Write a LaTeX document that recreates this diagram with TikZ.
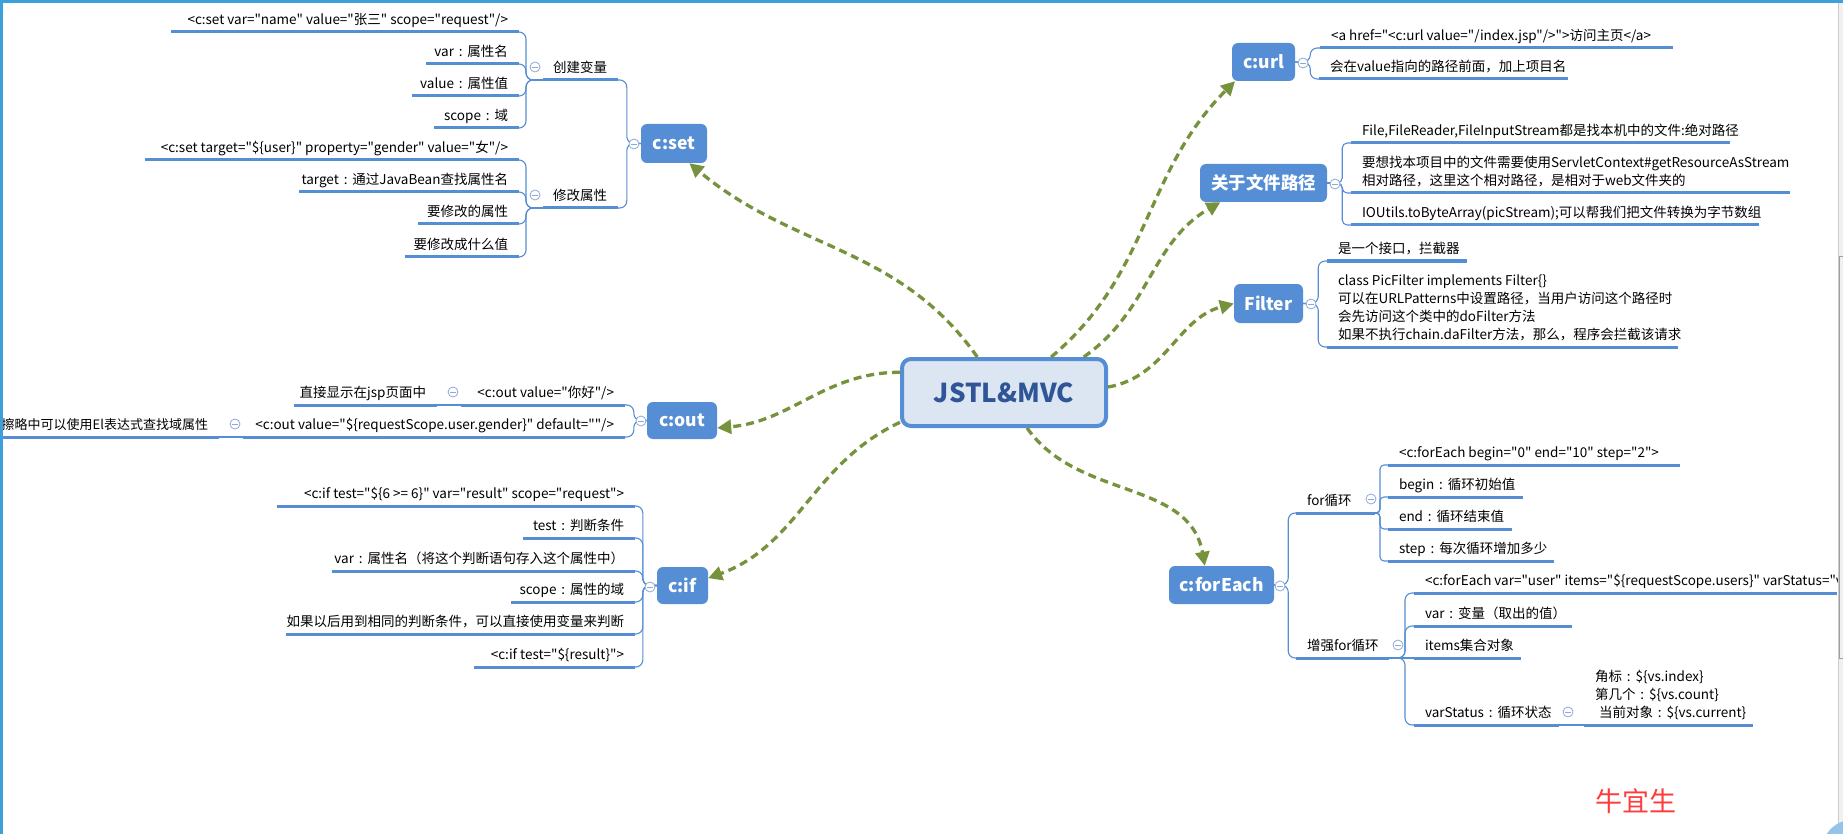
\documentclass[tikz,border=0pt]{standalone}
\usepackage{fontspec}
\setmainfont{Noto Sans CJK SC}[Ligatures=TeXOff]
\usetikzlibrary{arrows.meta}

\definecolor{topic}{RGB}{85,142,213}
\definecolor{ulinec}{RGB}{85,142,213}
\definecolor{olive}{RGB}{118,146,60}
\definecolor{cfill}{RGB}{220,230,242}
\definecolor{ctext}{RGB}{47,85,151}
\definecolor{winblue}{RGB}{60,160,220}
\definecolor{circ}{RGB}{141,170,215}
\definecolor{sigred}{RGB}{255,60,60}
\definecolor{stripgray}{RGB}{240,240,240}
\definecolor{orb}{RGB}{150,195,235}

\newlength\lw
\newcommand\leaffont{\fontsize{13.5pt}{17.7pt}\selectfont}
\newcommand\topicfont{\fontsize{17.5pt}{21pt}\selectfont\bfseries}
\newcommand\fc{\makebox[1em][c]{:}}
\newcommand\lineR[1]{\hbox to\lw{\hss\strut #1}}
\newcommand\lineL[1]{\hbox to\lw{\strut #1\hss}}
\newcommand\leafL[5]{\pgfmathsetlength\lw{#3-(#2)-22}%
  \node[leaf,anchor=south east] (#1) at (#3,#4) {\vbox{#5}};
  \draw[uline] (#1.south west) -- (#1.south east);}
\newcommand\leafR[5]{\pgfmathsetlength\lw{#3-(#2)-22}%
  \node[leaf,anchor=south west] (#1) at (#2,#4) {\vbox{#5}};
  \draw[uline] (#1.south west) -- (#1.south east);}
\newcommand\brL[4]{\foreach \tg in {#3} {\draw[brk=#4] (#1) -- ++(-#2,0) |- (\tg);}}
\newcommand\brR[4]{\foreach \tg in {#3} {\draw[brk=#4] (#1) -- ++(#2,0) |- (\tg);}}

\tikzset{
  leaf/.style={inner xsep=11pt, inner ysep=2.6pt, outer sep=0pt, font=\leaffont, text=black},
  uline/.style={draw=ulinec, line width=3pt},
  brk/.style={draw=ulinec, line width=1.1pt, rounded corners=#1},
  brk/.default=7pt,
  topicbox/.style={fill=topic, rounded corners=6pt, text=white, font=\topicfont, inner sep=0pt},
  conn/.style={draw=olive, line width=3.3pt, dash pattern=on 8pt off 5pt,
    -{Triangle[length=14pt,width=14pt]}},
  collapse/.style={circle, draw=circ, fill=white, line width=0.8pt, minimum size=10pt, inner sep=0pt,
    path picture={\draw[circ,line width=0.9pt] ([xshift=-2.6pt]path picture bounding box.center) -- ([xshift=2.6pt]path picture bounding box.center);}},
}

\begin{document}
\begin{tikzpicture}[x=1pt,y=-1pt]
\useasboundingbox (0,0) rectangle (1843,834);
\fill[white] (0,0) rectangle (1843,834);

% ---------- c:set ----------
\leafL{L1}{171}{519}{32}{\lineR{<c:set var="name" value="张三" scope="request"/>}}
\leafL{L2}{426}{519}{64}{\lineR{var\fc 属性名}}
\leafL{L3}{412}{519}{96}{\lineR{value\fc 属性值}}
\leafL{L4}{434}{519}{128}{\lineR{scope\fc 域}}
\leafL{L5}{145}{519}{160}{\lineR{<c:set target="\$\{user\}" property="gender" value="女"/>}}
\leafL{L6}{299}{519}{192}{\lineR{target\fc 通过JavaBean查找属性名}}
\leafL{L7}{418}{519}{224}{\lineR{要修改的属性}}
\leafL{L8}{405}{519}{257}{\lineR{要修改成什么值}}
\leafL{B1}{543}{618}{80}{\lineR{创建变量}}
\leafL{B2}{543}{618}{208}{\lineR{修改属性}}

% ---------- c:out ----------
\leafL{O1}{461}{625}{405}{\lineR{<c:out value="你好"/>}}
\leafL{O1a}{294}{437}{405}{\lineR{直接显示在jsp页面中}}
\leafL{O2}{243}{625}{437}{\lineR{<c:out value="\$\{requestScope.user.gender\}" default=""/>}}
\leafL{O2a}{-20}{219}{437}{\fontsize{13pt}{17.7pt}\selectfont\lineR{擦略中可以使用El表达式查找域属性}}

% ---------- c:if ----------
\leafL{I1}{277}{635}{506}{\lineR{<c:if test="\$\{6 >= 6\}" var="result" scope="request">}}
\leafL{I2}{523}{635}{538}{\lineR{test\fc 判断条件}}
\leafL{I3}{332}{635}{571}{\lineR{var\fc 属性名（将这个判断语句存入这个属性中）}}
\leafL{I4}{511}{635}{602}{\lineR{scope\fc 属性的域}}
\leafL{I5}{286}{635}{634}{\lineR{如果以后用到相同的判断条件，可以直接使用变量来判断}}
\leafL{I6}{474}{635}{667}{\lineR{<c:if test="\$\{result\}">}}

% ---------- c:url ----------
\leafR{U1}{1320}{1673}{48}{\lineL{<a href="<c:url value="/index.jsp"/>">访问主页</a>}}
\leafR{U2}{1319}{1568}{79}{\lineL{会在value指向的路径前面，加上项目名}}

% ---------- 关于文件路径 ----------
\leafR{P1}{1351}{1730}{143}{\lineL{File,FileReader,FileInputStream都是找本机中的文件:绝对路径}}
\leafR{P2}{1351}{1790}{193}{\lineL{要想找本项目中的文件需要使用ServletContext\#getResourceAsStream}\lineL{相对路径，这里这个相对路径，是相对于web文件夹的}}
\leafR{P3}{1351}{1759}{225}{\lineL{IOUtils.toByteArray(picStream);可以帮我们把文件转换为字节数组}}

% ---------- Filter ----------
\leafR{F1}{1327}{1467}{261}{\lineL{是一个接口，拦截器}}
\leafR{F2}{1327}{1678}{347}{\lineL{class PicFilter implements Filter\{\}}\lineL{可以在URLPatterns中设置路径，当用户访问这个路径时}\lineL{会先访问这个类中的doFilter方法}\lineL{如果不执行chain.daFilter方法，那么，程序会拦截该请求}}

% ---------- c:forEach ----------
\leafR{E1}{1296}{1375}{513}{\lineL{for循环}}
\leafR{E2}{1296}{1389}{658}{\lineL{增强for循环}}
\leafR{E1a}{1388}{1680}{465}{\lineL{<c:forEach begin="0" end="10" step="2">}}
\leafR{E1b}{1388}{1523}{497}{\lineL{begin\fc 循环初始值}}
\leafR{E1c}{1388}{1512}{529}{\lineL{end\fc 循环结束值}}
\leafR{E1d}{1388}{1554}{561}{\lineL{step\fc 每次循环增加多少}}
\leafR{E2a}{1414}{1837}{593}{\lineL{<c:forEach var="user" items="\$\{requestScope.users\}" varStatus="v}}
\leafR{E2b}{1414}{1572}{626}{\lineL{var\fc 变量（取出的值）}}
\leafR{E2c}{1414}{1521}{658}{\lineL{items集合对象}}
\leafR{E2d}{1414}{1559}{725}{\lineL{varStatus\fc 循环状态}}
\leafR{E2e}{1584}{1753}{725}{\lineL{角标\fc \$\{vs.index\}}\lineL{第几个\fc \$\{vs.count\}}\lineL{\hspace{4pt}当前对象\fc \$\{vs.current\}}}

% ---------- topic boxes ----------
\node[topicbox, minimum width=66pt, minimum height=39pt] (cset) at (674,143.5) {c:set};
\node[topicbox, minimum width=70pt, minimum height=37pt] (cout) at (682,420.5) {c:out};
\node[topicbox, minimum width=51pt, minimum height=37pt] (cif) at (682.5,585.5) {c:if};
\node[topicbox, minimum width=63pt, minimum height=38pt] (curl) at (1263.5,62) {c:url};
\node[topicbox, minimum width=127pt, minimum height=38pt] (cfile) at (1263.5,183) {关于文件路径};
\node[topicbox, minimum width=69pt, minimum height=39pt] (filter) at (1268.5,303.5) {Filter};
\node[topicbox, minimum width=105pt, minimum height=38pt] (cfe) at (1221.5,585) {c:forEach};

\node[draw=topic, line width=4pt, fill=cfill, rounded corners=9pt, minimum width=204pt,
  minimum height=67pt, text=ctext, font=\fontsize{26pt}{30pt}\selectfont\bfseries] (root) at (1004,392.5) {JSTL\&MVC};

% ---------- brackets ----------
\brL{cset.west}{14}{B1.south east,B2.south east}{7pt}
\brL{B1.south west}{17}{L1.south east,L2.south east,L3.south east,L4.south east}{7pt}
\brL{B2.south west}{17}{L5.south east,L6.south east,L7.south east,L8.south east}{7pt}
\brL{cout.west}{13}{O1.south east,O2.south east}{7pt}
\draw[brk] (O1.south west) -- (O1a.south east);
\draw[brk] (O2.south west) -- (O2a.south east);
\brL{cif.west}{14}{I1.south east,I2.south east,I3.south east,I4.south east,I5.south east,I6.south east}{7pt}
\brR{curl.east}{15}{U1.south west,U2.south west}{7pt}
\brR{cfile.east}{15}{P1.south west,P2.south west,P3.south west}{5pt}
\brR{filter.east}{15}{F1.south west,F2.south west}{7pt}
\brR{cfe.east}{14}{E1.south west,E2.south west}{7pt}
\brR{E1.south east}{5}{E1a.south west,E1b.south west,E1c.south west,E1d.south west}{4pt}
\brR{E2.south east}{16}{E2a.south west,E2b.south west,E2d.south west}{7pt}
\draw[brk] (E2.south east) -- (E2c.south west);
\draw[brk] (E2d.south east) -- (E2e.south west);

% ---------- collapse markers ----------
\node[collapse] (k1) at (634,144) {};
\node[collapse] (k2) at (535,67) {};
\node[collapse] (k3) at (535,195) {};
\node[collapse] (k4) at (641,421) {};
\node[collapse] (k5) at (453,392) {};
\node[collapse] (k6) at (235,424) {};
\node[collapse] (k7) at (650,587) {};
\node[collapse] (k8) at (1303,63) {};
\node[collapse] (k9) at (1335,184) {};
\node[collapse] (k10) at (1311,304) {};
\node[collapse] (k11) at (1280,586) {};
\node[collapse] (k12) at (1371,499) {};
\node[collapse] (k13) at (1398,645) {};
\node[collapse] (k14) at (1568,712) {};

% ---------- connectors ----------
\draw[conn] (root.127) to[out=125,in=-40] (cset.-52);
\draw[conn] (root.37) to[out=40,in=225] (curl.214);
\draw[conn] (root.24) to[out=35,in=210] (cfile.204);
\draw[conn] (root.3) to[out=10,in=195] (filter.west);
\draw[conn] (root.169) to[out=180,in=5] (cout.-12);
\draw[conn] (root.196) to[out=205,in=20] (cif.16);
\draw[conn] (root.303) to[out=-55,in=100] (cfe.131);

% ---------- signature ----------
\node[text=sigred, font=\fontsize{27pt}{30pt}\selectfont] (sig) at (1636,801) {牛宜生};

% ---------- window frame ----------
\fill[stripgray] (1838,0) rectangle (1843,834);
\draw[gray!40, line width=0.8pt] (1838.4,3) -- (1838.4,834);
\draw[gray!75, line width=1pt] (1839,257) rectangle (1846,658);
\fill[orb] (1852,850) circle (30);
\fill[winblue] (0,0) rectangle (1843,3);
\fill[winblue] (0,0) rectangle (2.5,834);
\end{tikzpicture}
\end{document}
